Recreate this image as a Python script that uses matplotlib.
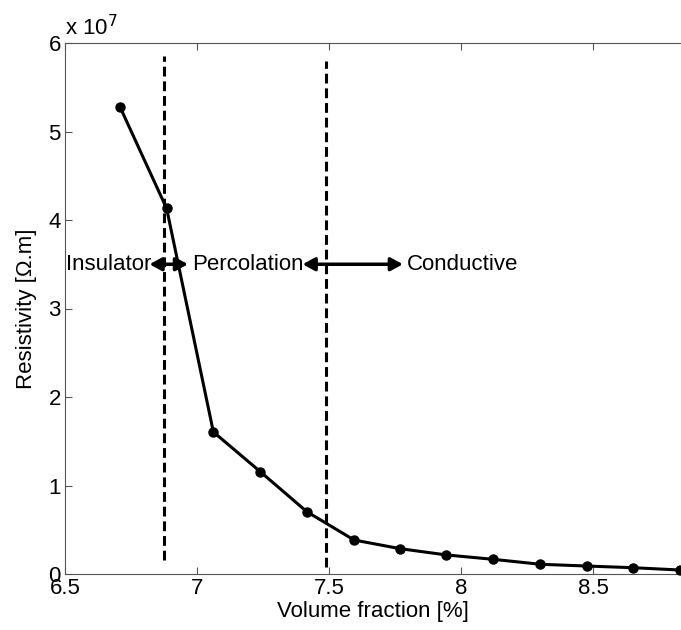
import matplotlib
matplotlib.use("Agg")
import matplotlib.pyplot as plt
import numpy as np

# Data
volume_fraction = [6.708, 6.885, 7.062, 7.239, 7.416, 7.595, 7.77, 7.945,
                   8.122, 8.30, 8.476, 8.653, 8.83]
resistivity = [5.28e7, 4.13e7, 1.605e7, 1.158e7, 0.704e7, 0.384e7, 0.286e7,
               0.215e7, 0.166e7, 0.11e7, 0.09e7, 0.071e7, 0.045e7]

boundary_x = [6.875, 7.489]
boundary_top = [5.85e7, 5.8e7]
boundary_bottom = [0.16e7, 0.08e7]

region_labels = ["Insulator", "Percolation", "Conductive"]
label_x = [6.505, 6.98, 7.795]
arrow_spans = [(6.82, 6.966), (7.40, 7.78)]
arrow_y = 3.5e7

xticks = [6.5, 7, 7.5, 8, 8.5]
xtick_labels = ["6.5", "7", "7.5", "8", "8.5"]
yticks = [0, 1e7, 2e7, 3e7, 4e7, 5e7, 6e7]
ytick_labels = ["0", "1", "2", "3", "4", "5", "6"]

plt.rcParams["font.family"] = ["Liberation Sans", "DejaVu Sans"]
FS = 16

fig = plt.figure(figsize=(6.81, 6.30), dpi=100)
ax = fig.add_axes([65 / 681, 56 / 630, 616 / 681, 531 / 630])

ax.plot(volume_fraction, resistivity, color="black", lw=2.2, marker="o",
        markersize=6.5, clip_on=False, zorder=3)

for x, top, bot in zip(boundary_x, boundary_top, boundary_bottom):
    ax.plot([x, x], [bot, top], color="black", lw=2.2,
            linestyle=(0, (3.2, 1.6)), zorder=2)

for (x0, x1) in arrow_spans:
    ax.annotate("", xy=(x0, arrow_y), xytext=(x1, arrow_y),
                arrowprops=dict(arrowstyle="<|-|>,head_length=0.55,head_width=0.3",
                                color="black", lw=2.5,
                                mutation_scale=13, shrinkA=0, shrinkB=0))

for name, x in zip(region_labels, label_x):
    ax.text(x, arrow_y, name, fontsize=FS, ha="left", va="center")

ax.set_xlim(6.5, 6.5 + 616 / 264)
ax.set_ylim(0, 6e7)
ax.set_xticks(xticks)
ax.set_xticklabels(xtick_labels)
ax.set_yticks(yticks)
ax.set_yticklabels(ytick_labels)
ax.tick_params(direction="in", length=5, width=0.8, color="#555555",
               labelsize=FS, top=True, pad=3)
for side in ["left", "bottom", "top"]:
    ax.spines[side].set_color("#555555")
    ax.spines[side].set_linewidth(0.8)
ax.spines["right"].set_visible(False)

ax.set_xlabel("Volume fraction [%]", fontsize=FS, labelpad=1)
ax.set_ylabel("Resistivity [\u03a9.m]", fontsize=FS, labelpad=8)
ax.text(0.0, 1.005, "x 10$^7$", transform=ax.transAxes, fontsize=FS,
        ha="left", va="bottom")

fig.savefig("out.png", dpi=100)
